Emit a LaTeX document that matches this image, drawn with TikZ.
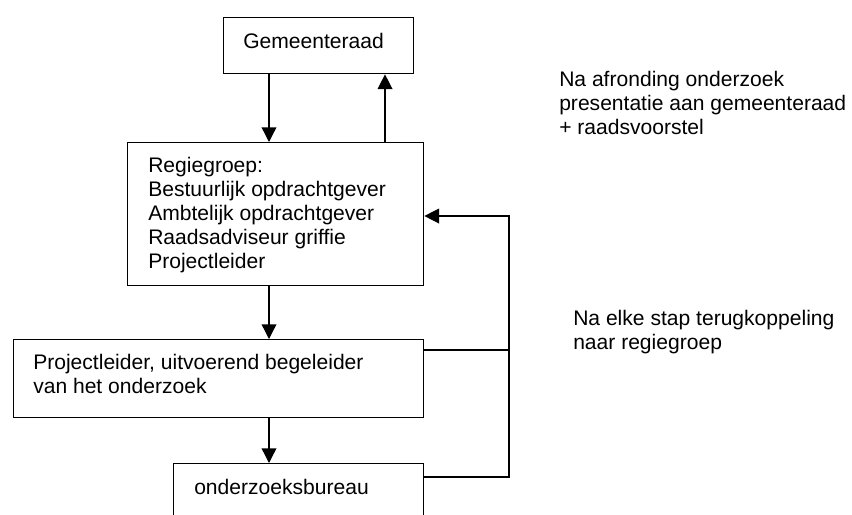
\documentclass[tikz,border=0pt]{standalone}
\usepackage{fontspec}
\setmainfont{Liberation Sans}
\usetikzlibrary{arrows.meta}
\begin{document}
\begin{tikzpicture}[x=0.75pt,y=-0.75pt,
  every node/.style={font=\fontsize{15.8pt}{18pt}\selectfont},
  box/.style={draw,line width=1pt,rectangle,inner sep=0pt,anchor=north west},
  lbl/.style={anchor=base west,inner sep=0pt,align=left},
  conn/.style={line width=1pt},
  arr/.style={line width=1pt,-{Triangle[length=11pt,width=11pt]}}]
\useasboundingbox (0,0) rectangle (852,514);
\clip (0,0) rectangle (852,514);
% boxes
\node[box,minimum width=190*0.75pt,minimum height=56*0.75pt] (g) at (223,17) {};
\node[box,minimum width=296*0.75pt,minimum height=143*0.75pt] (r) at (127,142) {};
\node[box,minimum width=410*0.75pt,minimum height=78*0.75pt] (p) at (13,339) {};
\node[box,minimum width=250*0.75pt,minimum height=80*0.75pt] (o) at (173,463) {};
% texts (anchor = baseline of last line)
\node[lbl] (gt) at (243,48) {Gemeenteraad};
\node[lbl] (rt) at (148,268) {Regiegroep:\\Bestuurlijk opdrachtgever\\Ambtelijk opdrachtgever\\Raadsadviseur griffie\\Projectleider};
\node[lbl] (pt) at (33,393) {Projectleider, uitvoerend begeleider\\van het onderzoek};
\node[lbl] (ot) at (194,494) {onderzoeksbureau};
\node[lbl] (n1) at (559,134) {Na afronding onderzoek\\presentatie aan gemeenteraad\\+ raadsvoorstel};
\node[lbl] (n2) at (573,349) {Na elke stap terugkoppeling\\naar regiegroep};
% connector helpers
\coordinate (xa) at (269,0);
\coordinate (xb) at (385,0);
\coordinate (fbtop) at (509,216);
\coordinate (fbp) at (509,350);
\coordinate (fbo) at (509,477);
% connectors
\draw[arr] (g.south -| xa) -- (r.north -| xa);
\draw[arr] (r.north -| xb) -- (g.south -| xb);
\draw[arr] (r.south -| xa) -- (p.north -| xa);
\draw[arr] (p.south -| xa) -- (o.north -| xa);
\draw[conn] (p.east |- fbp) -- (fbp);
\draw[arr] (o.east |- fbo) -- (fbo) -- (fbtop) -- (r.east |- fbtop);
\end{tikzpicture}
\end{document}
